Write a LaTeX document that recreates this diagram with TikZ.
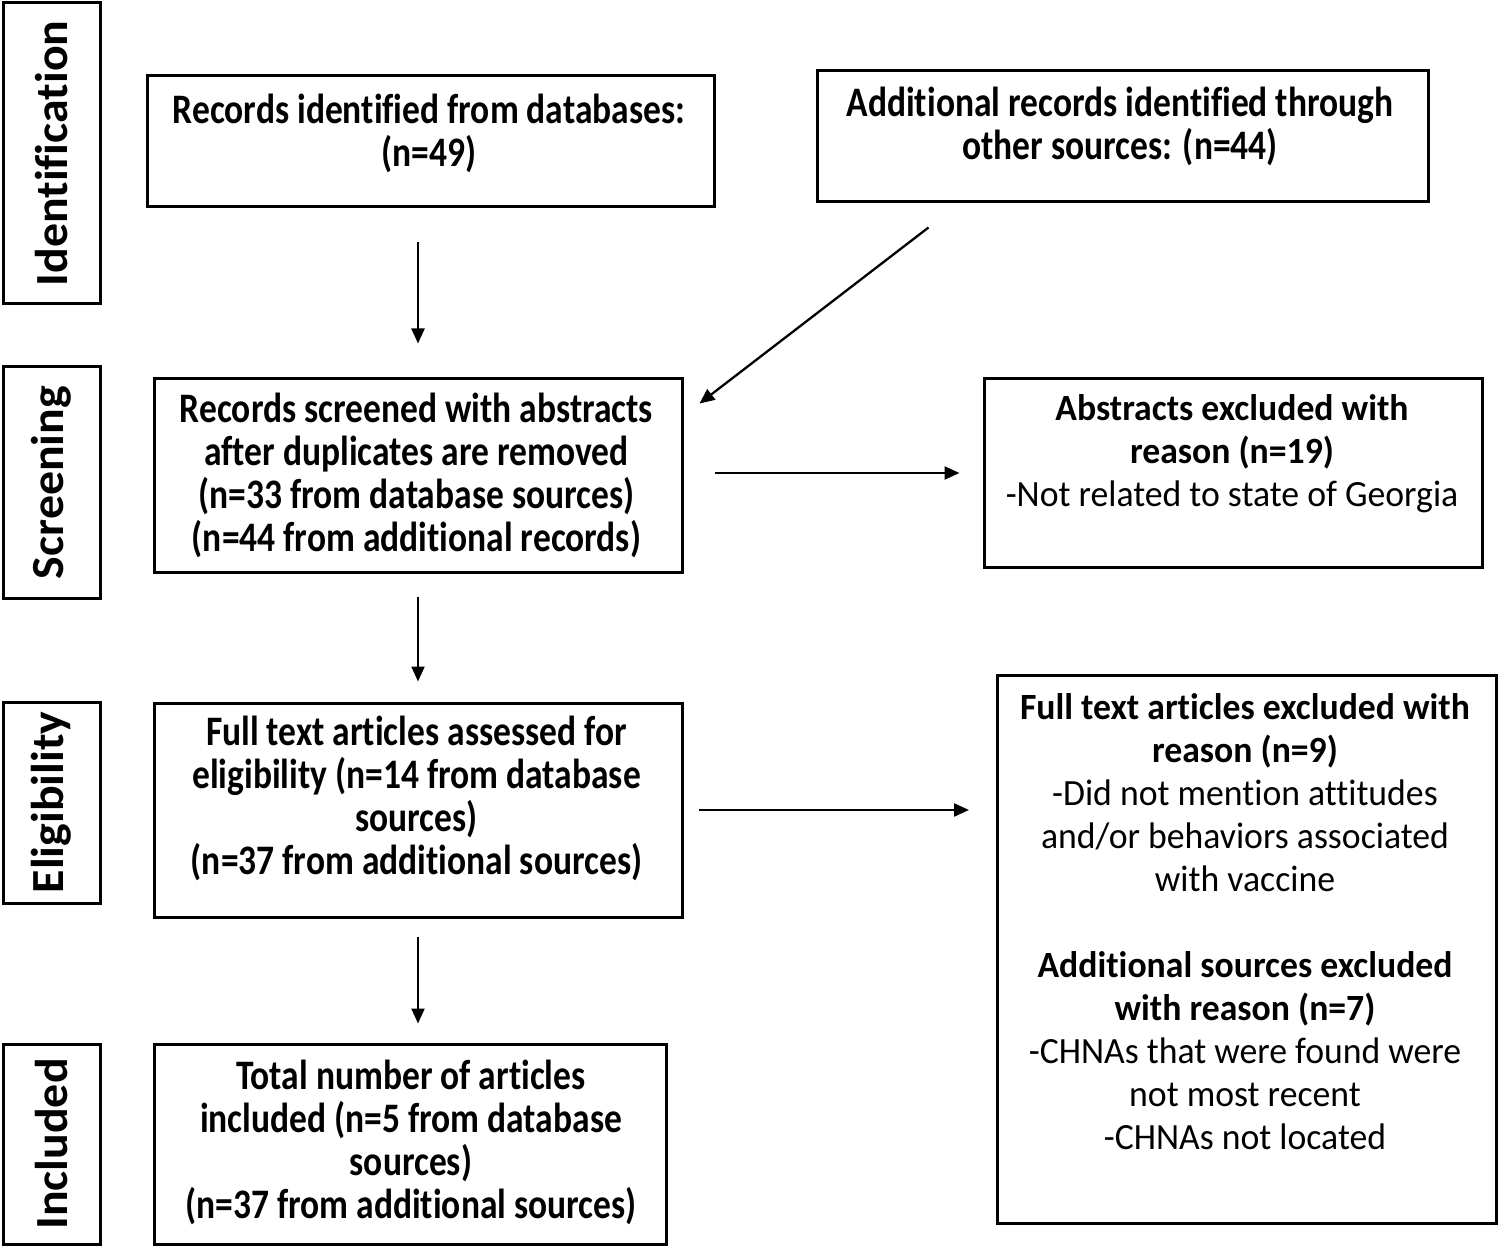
\documentclass[tikz,border=0pt]{standalone}
\usepackage{fontspec}
\usetikzlibrary{arrows.meta}
\newfontfamily\leftfnt{Carlito}[FakeStretch=0.845,Ligatures=CommonOff]
\newfontfamily\rightfnt{Carlito}[FakeStretch=0.965,Ligatures=CommonOff]
\newfontfamily\sidefnt{Carlito}[FakeStretch=1.04,Ligatures=CommonOff]
\begin{document}
\begin{tikzpicture}[x=1pt,y=1pt,
  box/.style={draw, line width=3pt, inner sep=0pt},
  side/.style={draw, line width=3pt, inner sep=0pt, rotate=90, font=\sidefnt\bfseries\fontsize{46}{50}\selectfont},
  ltxt/.style={align=center, inner sep=0pt, font=\leftfnt\bfseries\fontsize{42}{43}\selectfont},
  rtxt/.style={align=center, inner sep=0pt, font=\rightfnt\fontsize{37}{43}\selectfont},
  arr/.style={line width=2.3pt, -{Triangle[length=15pt,width=13pt]}}]
\path[use as bounding box] (0,0) rectangle (1500,-1249);
% phase labels
\node[side, minimum width=301pt, minimum height=97pt] (sI) at (51.5,-153.5) {Identification};
\node[side, minimum width=231pt, minimum height=97pt] (sS) at (51.5,-482.5) {Screening};
\node[side, minimum width=201pt, minimum height=97pt] (sE) at (51.5,-802.5) {Eligibility};
\node[side, minimum width=200pt, minimum height=97pt] (sN) at (51.5,-1144) {Included};
% boxes
\node[box, minimum width=567pt, minimum height=131pt] (A) at (430.5,-141.5) {};
\node[box, minimum width=611pt, minimum height=131pt] (B) at (1122.5,-136.5) {};
\node[box, minimum width=528pt, minimum height=193pt] (C) at (418,-475.5) {};
\node[box, minimum width=498pt, minimum height=188pt] (D) at (1233,-473) {};
\node[box, minimum width=499pt, minimum height=548pt] (E) at (1247,-949) {};
\node[box, minimum width=528pt, minimum height=214pt] (F) at (418,-810) {};
\node[box, minimum width=512pt, minimum height=200pt] (G) at (410,-1144) {};
% texts
\node[ltxt] (tA) at (429,-133) {Records identified from databases:\\(n=49)};
\node[ltxt] (tB) at (1120,-126.5) {Additional records identified through\\other sources: (n=44)};
\node[ltxt] (tC) at (416.5,-475) {Records screened with abstracts\\after duplicates are removed\\(n=33 from database sources)\\(n=44 from additional records)};
\node[rtxt] (tD) at (1232,-454) {\bfseries Abstracts excluded with\\\bfseries reason (n=19)\\-Not related to state of Georgia};
\node[rtxt] (tE) at (1245,-922) {\bfseries Full text articles excluded with\\\bfseries reason (n=9)\\-Did not mention attitudes\\and/or behaviors associated\\with vaccine\\[43pt]\bfseries Additional sources excluded\\\bfseries with reason (n=7)\\-CHNAs that were found were\\not most recent\\-CHNAs not located};
\node[ltxt] (tF) at (416.5,-798) {Full text articles assessed for\\eligibility (n=14 from database\\sources)\\(n=37 from additional sources)};
\node[ltxt] (tG) at (411,-1142) {Total number of articles\\included (n=5 from database\\sources)\\(n=37 from additional sources)};
% connectors
\draw[arr, shorten <=34pt, shorten >=34pt] (A.south -| C.north) -- (C.north);
\draw[arr] ([xshift=113pt,yshift=-24pt]B.south west) -- ([xshift=16pt,yshift=-26pt]C.north east);
\draw[arr, shorten <=23pt, shorten >=20pt] (C.south) -- (F.north);
\draw[arr, shorten <=18pt, shorten >=19pt] (F.south) -- (F.south |- G.north);
\draw[arr, shorten <=31pt, shorten >=23pt] (C.east |- D.west) -- (D.west);
\draw[arr, shorten <=15pt, shorten >=27pt] (F.east) -- (F.east -| E.west);
\end{tikzpicture}
\end{document}
